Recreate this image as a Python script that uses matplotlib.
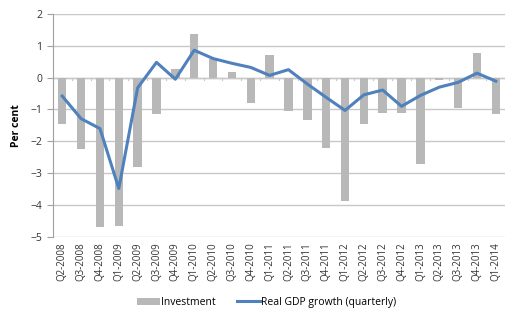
import matplotlib
matplotlib.use("Agg")
import matplotlib.pyplot as plt
import numpy as np

quarters = [
    "Q2-2008", "Q3-2008", "Q4-2008", "Q1-2009", "Q2-2009", "Q3-2009",
    "Q4-2009", "Q1-2010", "Q2-2010", "Q3-2010", "Q4-2010", "Q1-2011",
    "Q2-2011", "Q3-2011", "Q4-2011", "Q1-2012", "Q2-2012", "Q3-2012",
    "Q4-2012", "Q1-2013", "Q2-2013", "Q3-2013", "Q4-2013", "Q1-2014",
]
investment = [
    -1.45, -2.23, -4.68, -4.66, -2.82, -1.14,
    0.26, 1.36, 0.58, 0.19, -0.80, 0.70,
    -1.05, -1.32, -2.21, -3.88, -1.45, -1.11,
    -1.10, -2.72, -0.06, -0.96, 0.77, -1.14,
]
gdp_growth = [
    -0.58, -1.29, -1.60, -3.48, -0.32, 0.48,
    -0.05, 0.86, 0.60, 0.45, 0.32, 0.07,
    0.25, -0.20, -0.62, -1.03, -0.54, -0.39,
    -0.90, -0.56, -0.30, -0.15, 0.14, -0.11,
]

plt.rcParams["font.family"] = ["Open Sans", "DejaVu Sans"]

fig = plt.figure(figsize=(5.23, 3.24), dpi=100)
ax = fig.add_axes([0.101, 0.269, 0.865, 0.688])

x = np.arange(len(quarters))
bars = ax.bar(x, investment, width=0.45, color="#b8b8b8", label="Investment", zorder=2)
line, = ax.plot(x, gdp_growth, color="#4f81bd", linewidth=2.2,
                label="Real GDP growth (quarterly)", zorder=3)

ax.set_ylim(-5, 2)
ax.set_xlim(-0.5, len(quarters) - 0.5)
ax.set_yticks(range(-5, 3))
ax.yaxis.grid(True, color="#c8c8c8", linewidth=1, zorder=0)
ax.set_axisbelow(True)

# zero line with small category ticks, Excel style
ax.axhline(0, color="#c8c8c8", linewidth=1, zorder=1)
for xi in np.arange(-0.5, len(quarters), 1.0):
    ax.plot([xi, xi], [0, -0.07], color="#c8c8c8", linewidth=0.8, zorder=1)

ax.set_xticks(x)
ax.set_xticklabels(quarters, rotation=90, fontsize=7, color="#333333")
ax.tick_params(axis="x", length=0, pad=4)
ax.tick_params(axis="y", labelsize=7.5, colors="#333333", length=4,
               color="#a0a0a0", direction="out")

for side in ["top", "right", "bottom"]:
    ax.spines[side].set_visible(False)
ax.spines["left"].set_color("#a0a0a0")

ax.set_ylabel("Per cent", fontsize=7.5, fontweight="bold", labelpad=6)

fig.legend(handles=[bars, line], loc="lower center", bbox_to_anchor=(0.51, 0.02),
           ncol=2, frameon=False, fontsize=7.5, handlelength=2.2,
           columnspacing=2.0, handletextpad=0.1)

fig.savefig("out.png", dpi=100)
